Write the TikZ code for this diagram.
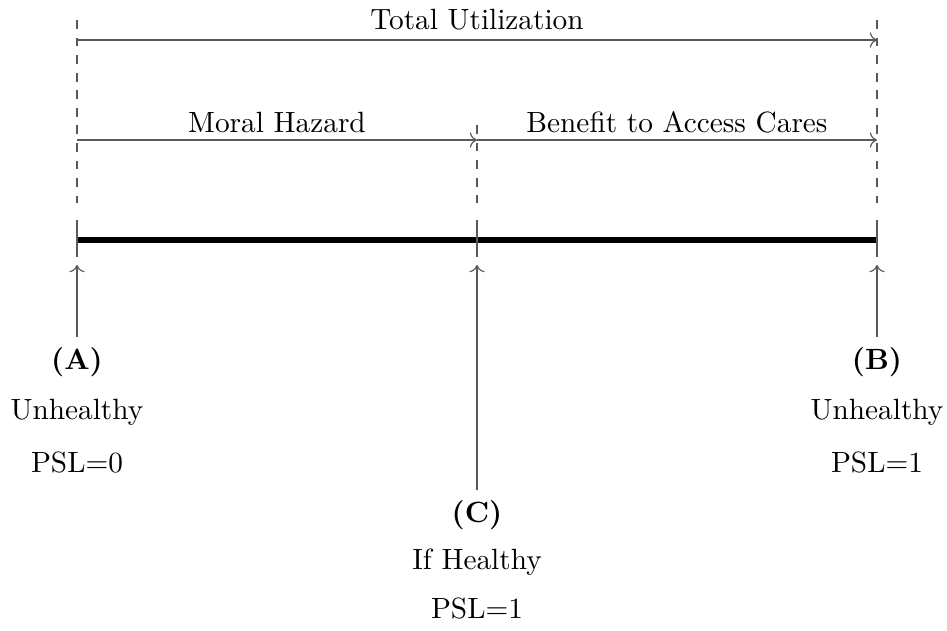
\documentclass[tikz,border=0pt]{standalone}
\usepackage{amsmath}
\usepackage{tikz}
\usetikzlibrary{positioning, arrows.meta, calc}

\begin{document}
\begin{tikzpicture}
\useasboundingbox (-0.924,2.88) rectangle (10.44,-4.68);
% Points on the line
\coordinate (a) at (0,0);
\coordinate (c) at (4.8,0);
\coordinate (b) at (9.6,0);
% Dashed guides
\coordinate (atop) at (0,2.64);
\coordinate (ctop) at (4.8,1.38);
\coordinate (btop) at (9.6,2.64);
\coordinate (abot) at (0,0.45);
\coordinate (cbot) at (4.8,0.45);
\coordinate (bbot) at (9.6,0.45);
\draw[dashed, gray!70!black] (atop) -- (abot);
\draw[dashed, gray!70!black] (ctop) -- (cbot);
\draw[dashed, gray!70!black] (btop) -- (bbot);
% Main line
\draw[line width=2pt] (a) -- (b);
\foreach \p in {a,c,b} {
  \draw[gray!70!black] ($(\p)+(0,0.24)$) -- ($(\p)+(0,-0.2)$);
}
% Total utilization
\coordinate (t1) at (0,2.4);
\coordinate (t2) at (9.6,2.4);
\draw[->, gray!70!black] (t1) -- (t2);
\node (total) at (4.8,2.64) {Total Utilization};
% Moral hazard and benefit
\coordinate (m1) at (0,1.2);
\coordinate (m2) at (4.8,1.2);
\coordinate (m3) at (9.6,1.2);
\draw[->, gray!70!black] (m1) -- (m2);
\draw[->, gray!70!black] (m2) -- (m3);
\node (moral) at (2.4,1.416) {Moral Hazard};
\node (benefit) at (7.2,1.416) {Benefit to Access Cares};
% Labels below
\node (lblA) at (0,-1.464) {\textbf{(A)}};
\node (unA) at (0,-2.064) {Unhealthy};
\node (pslA) at (0,-2.664) {PSL$=$0};
\node (lblB) at (9.6,-1.464) {\textbf{(B)}};
\node (unB) at (9.6,-2.064) {Unhealthy};
\node (pslB) at (9.6,-2.664) {PSL$=$1};
\node (lblC) at (4.8,-3.3) {\textbf{(C)}};
\node (heC) at (4.8,-3.864) {If Healthy};
\node (pslC) at (4.8,-4.416) {PSL$=$1};
% Pointers
\coordinate (pa) at (0,-0.3);
\coordinate (pc) at (4.8,-0.3);
\coordinate (pb) at (9.6,-0.3);
\draw[->, gray!70!black] (lblA) -- (pa);
\draw[->, gray!70!black] (lblC) -- (pc);
\draw[->, gray!70!black] (lblB) -- (pb);
\end{tikzpicture}
\end{document}
